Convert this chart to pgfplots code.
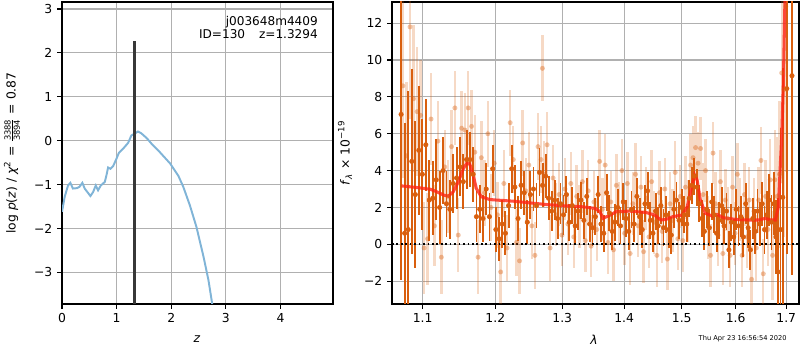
\documentclass[border=0pt]{standalone}
\usepackage{pgfplots}
\usepackage{pgfplotstable}
\pgfplotsset{compat=1.18}
\usepackage{fontspec}
\setmainfont{DejaVu Sans}
\definecolor{dorange}{RGB}{217,95,14}
\definecolor{pzblue}{RGB}{128,180,215}
\definecolor{modred}{RGB}{255,35,20}
\definecolor{gridgray}{RGB}{176,176,176}

\pgfplotstableread{
x y e
1.0720 7.05 9.0
1.0766 0.60 6.0
1.0812 0.80 7.5
1.0858 4.50 5.0
1.0904 2.70 4.0
1.0950 5.10 3.5
1.0996 3.80 3.0
1.1042 5.40 2.5
1.1088 2.40 2.2
1.1134 2.50 2.0
1.1180 3.50 2.2
1.1226 2.00 2.0
1.1272 4.00 1.8
1.1318 2.20 1.8
1.1364 1.90 1.6
1.1410 3.30 1.6
1.1456 3.60 1.7
1.1502 4.20 1.6
1.1548 3.40 1.5
1.1594 4.60 1.6
1.1640 4.60 1.5
1.1686 3.80 1.5
1.1732 1.50 1.4
1.1778 1.90 1.3
1.1824 1.40 1.3
1.1870 3.00 1.4
1.1916 1.50 1.3
1.1962 4.10 1.3
1.2008 0.80 1.2
1.2054 0.30 1.2
1.2100 1.10 1.3
1.2146 0.60 1.2
1.2192 2.10 1.2
1.2238 4.10 1.3
1.2284 3.10 1.2
1.2330 1.40 1.2
1.2376 3.20 1.3
1.2422 2.80 1.2
1.2468 1.20 1.2
1.2514 2.70 1.3
1.2560 3.00 1.2
1.2606 2.10 1.2
1.2652 3.90 1.3
1.2698 3.20 1.2
1.2744 3.70 1.2
1.2790 2.50 1.2
1.2836 1.80 1.1
1.2882 2.40 1.1
1.2928 1.40 1.1
1.2974 2.20 1.1
1.3020 1.60 1.1
1.3066 2.70 1.0
1.3112 1.20 1.0
1.3158 2.10 1.0
1.3204 1.00 1.0
1.3250 1.80 1.0
1.3296 2.40 1.0
1.3342 1.30 1.0
1.3388 2.60 1.0
1.3434 1.10 1.0
1.3480 0.90 1.0
1.3526 1.50 1.0
1.3572 2.70 1.0
1.3618 1.10 1.0
1.3664 0.60 1.0
1.3710 2.80 1.0
1.3756 1.70 1.0
1.3802 0.70 1.0
1.3848 1.20 1.0
1.3894 2.00 1.0
1.3940 1.00 1.0
1.3986 2.30 1.0
1.4032 1.40 1.0
1.4078 0.70 1.0
1.4124 1.90 1.0
1.4170 1.10 1.0
1.4216 2.60 1.0
1.4262 1.50 1.0
1.4308 0.80 1.0
1.4354 2.20 1.0
1.4400 2.90 1.0
1.4446 1.30 1.0
1.4492 0.60 1.0
1.4538 1.80 1.0
1.4584 1.00 1.0
1.4630 2.10 1.0
1.4676 0.90 1.0
1.4722 1.60 1.0
1.4768 0.80 1.0
1.4814 0.50 1.0
1.4860 1.90 1.0
1.4906 2.40 1.0
1.4952 1.30 1.0
1.4998 2.00 1.0
1.5044 1.60 1.0
1.5090 1.10 1.0
1.5136 2.50 1.0
1.5182 3.20 1.0
1.5228 3.70 1.0
1.5274 3.10 1.0
1.5320 2.20 1.0
1.5366 1.40 1.0
1.5412 0.70 1.0
1.5458 1.90 1.0
1.5504 0.90 1.0
1.5550 2.30 1.0
1.5596 1.60 1.0
1.5642 0.60 1.0
1.5688 1.30 1.0
1.5734 2.10 1.0
1.5780 1.00 1.0
1.5826 1.80 1.0
1.5872 -0.30 1.0
1.5918 1.20 1.0
1.5964 0.40 1.0
1.6010 1.90 1.1
1.6056 1.00 1.1
1.6102 1.50 1.1
1.6148 0.40 1.1
1.6194 2.20 1.1
1.6240 0.90 1.1
1.6286 -0.30 1.1
1.6332 1.40 1.1
1.6378 0.70 1.2
1.6424 1.80 1.2
1.6470 1.10 1.2
1.6516 2.20 1.2
1.6562 0.80 1.3
1.6608 1.60 1.3
1.6654 2.40 1.4
1.6700 1.20 1.5
1.6746 2.20 1.7
1.6792 0.40 2.0
1.6838 -1.50 4.0
1.6884 0.80 5.5
1.6930 2.55 7.0
1.7010 8.45 9.0
1.7116 9.15 10.8
}\darkdata

\pgfplotstableread{
x y e
1.0743 8.60 5.0
1.0789 4.80 4.0
1.0835 11.80 5.0
1.0881 7.90 4.0
1.0927 7.20 3.5
1.0973 7.00 3.0
1.1019 -0.20 2.5
1.1065 0.30 2.5
1.1111 6.80 2.5
1.1157 1.00 2.2
1.1203 5.60 2.2
1.1249 -0.70 2.0
1.1295 4.20 2.0
1.1341 2.60 2.0
1.1387 5.30 2.0
1.1433 7.40 2.0
1.1479 0.50 2.0
1.1525 6.30 2.0
1.1571 6.20 2.0
1.1617 7.40 2.0
1.1663 6.40 2.0
1.1709 5.00 2.0
1.1755 -0.70 2.0
1.1801 4.70 2.0
1.1847 2.80 1.8
1.1893 6.00 1.8
1.1939 2.00 1.8
1.1985 4.40 1.8
1.2031 1.60 1.8
1.2077 -1.50 1.8
1.2123 3.30 1.8
1.2169 -0.20 1.8
1.2215 6.60 1.8
1.2261 4.60 1.8
1.2307 0.10 1.8
1.2353 -0.90 1.8
1.2399 5.50 1.8
1.2445 2.90 1.8
1.2491 4.30 1.8
1.2537 1.00 1.8
1.2583 -0.60 1.8
1.2629 5.30 1.8
1.2675 4.60 1.8
1.2696 9.55 1.8
1.2721 3.80 1.8
1.2767 5.40 1.8
1.2813 -0.20 1.8
1.2859 3.60 1.8
1.2905 1.60 1.7
1.2951 2.70 1.7
1.2997 0.50 1.7
1.3043 3.00 1.7
1.3089 1.10 1.7
1.3135 3.30 1.7
1.3181 0.40 1.7
1.3227 2.60 1.7
1.3273 1.50 1.7
1.3319 3.40 1.7
1.3365 0.20 1.7
1.3411 2.90 1.7
1.3457 -0.10 1.7
1.3503 2.30 1.7
1.3549 0.80 1.7
1.3595 4.50 1.7
1.3641 1.90 1.7
1.3687 4.30 1.7
1.3733 0.10 1.7
1.3779 2.30 1.7
1.3825 -0.30 1.7
1.3871 3.20 1.7
1.3917 1.70 1.7
1.3963 4.00 1.7
1.4009 0.60 1.7
1.4055 3.30 1.7
1.4101 -0.50 1.7
1.4147 2.20 1.7
1.4193 3.80 1.7
1.4239 1.00 1.7
1.4285 3.10 1.7
1.4331 -0.40 1.7
1.4377 2.50 1.7
1.4423 0.40 1.7
1.4469 3.40 1.7
1.4515 1.20 1.7
1.4561 -0.60 1.7
1.4607 2.80 1.7
1.4653 0.70 1.7
1.4699 3.00 1.7
1.4745 -0.80 1.7
1.4791 2.20 1.7
1.4837 1.30 1.7
1.4883 3.90 1.7
1.4929 0.30 1.7
1.4975 2.60 1.7
1.5021 0.20 1.7
1.5067 3.10 1.7
1.5113 1.80 1.7
1.5159 4.30 1.7
1.5205 4.70 1.7
1.5251 5.25 1.7
1.5297 4.40 1.7
1.5343 5.20 1.7
1.5389 2.70 1.7
1.5435 4.00 1.7
1.5481 0.90 1.7
1.5527 -0.60 1.7
1.5573 4.95 1.7
1.5619 2.20 1.7
1.5665 0.50 1.7
1.5711 3.40 1.7
1.5757 -0.50 1.7
1.5803 2.40 1.7
1.5849 1.40 1.7
1.5895 -0.60 1.7
1.5941 3.10 1.7
1.5987 0.60 1.7
1.6033 3.80 1.7
1.6079 1.90 1.7
1.6125 -0.60 1.7
1.6171 2.70 1.7
1.6217 0.40 1.7
1.6263 2.40 1.8
1.6309 -1.90 1.8
1.6355 1.80 1.8
1.6401 -0.20 1.8
1.6447 2.40 1.8
1.6493 4.55 1.8
1.6539 -1.60 1.9
1.6585 2.60 2.0
1.6631 0.80 2.0
1.6677 3.50 2.2
1.6723 -0.60 2.4
1.6769 3.50 2.7
1.6815 2.60 3.2
1.6861 3.80 4.0
1.6907 9.30 6.0
1.6953 8.40 8.0
1.6990 12.90 9.0
}\lightdata

\pgfplotsset{
  mpl/.style={
    scale only axis,
    anchor=south west,
    height=217.44pt,
    tick align=outside,
    major tick length=3.5pt,
    every tick/.style={black, line width=0.8pt},
    axis line style={line width=0.8pt},
    grid=major,
    grid style={color=gridgray, line width=0.8pt},
    tick label style={font=\fontsize{8.9}{10}\selectfont},
    xtick pos=bottom, ytick pos=left,
    minor xtick={}, minor ytick={},
  }
}

\begin{document}
\begin{tikzpicture}
\useasboundingbox (0pt,0pt) rectangle (576pt,252pt);

% left: p(z)
\begin{axis}[mpl,
  at={(44.64pt,33.12pt)}, width=195.1pt,
  xmin=0, xmax=4.96, ymin=-3.72, ymax=3.16,
  xtick={0,1,2,3,4}, xticklabels={0,1,2,3,4},
  ytick={-3,-2,-1,0,1,2,3},
  yticklabels={−3,−2,−1,0,1,2,3},
]
\addplot[color=pzblue, line width=1.4pt] coordinates {
(0.000,-1.62) (0.049,-1.28) (0.110,-1.02) (0.153,-0.96) (0.200,-1.09)
(0.275,-1.08) (0.320,-1.05) (0.373,-0.96) (0.416,-1.09) (0.477,-1.19)
(0.520,-1.26) (0.569,-1.17) (0.618,-1.02) (0.660,-1.13) (0.710,-1.02)
(0.783,-0.94) (0.813,-0.79) (0.844,-0.61) (0.887,-0.64) (0.936,-0.58)
(0.997,-0.41) (1.040,-0.28) (1.120,-0.18) (1.210,-0.05) (1.270,0.12)
(1.330,0.16) (1.390,0.21) (1.450,0.17) (1.550,0.06) (1.640,-0.07)
(1.790,-0.26) (1.980,-0.52) (2.130,-0.80) (2.220,-1.05) (2.340,-1.47)
(2.460,-1.96) (2.590,-2.64) (2.680,-3.17) (2.750,-3.72)
};
\addplot[color=black!78, line width=2pt] coordinates {(1.3294,-3.72) (1.3294,2.28)};
\node[anchor=north east, align=right, inner sep=0pt, font=\fontsize{8.7}{10}\selectfont]
  at (rel axis cs:0.945,0.955) {j003648m4409\\ID=130\hspace{10pt}z=1.3294};
\end{axis}

% right: spectrum
\begin{axis}[mpl,
  at={(282.24pt,33.12pt)}, width=293pt,
  xmode=log, log basis x=10,
  xmin=1.0604, xmax=1.726, ymin=-3.24, ymax=13.15,
  xtick={1.1,1.2,1.3,1.4,1.5,1.6,1.7},
  xticklabels={1.1,1.2,1.3,1.4,1.5,1.6,1.7},
  ytick={-2,0,2,4,6,8,10,12},
  yticklabels={−2,0,2,4,6,8,10,12},
]
\addplot[color=dorange, only marks, mark=*, mark size=1.8pt,
  mark options={color=dorange, fill=dorange, draw opacity=0, fill opacity=0.38},
  error bars/.cd, y dir=both, y explicit, error mark=none,
  error bar style={line width=1.7pt, color=dorange, opacity=0.24}]
  table[x=x, y=y, y error=e]{\lightdata};
\addplot[color=dorange, only marks, mark=*, mark size=1.6pt,
  mark options={color=dorange, fill=dorange},
  error bars/.cd, y dir=both, y explicit, error mark=none,
  error bar style={line width=1.35pt, color=dorange}]
  table[x=x, y=y, y error=e]{\darkdata};
\addplot[color=black, dotted, line width=1.2pt] coordinates {(1.0604,0) (1.726,0)};
\addplot[color=modred, line width=2.2pt, opacity=0.8] coordinates {
(1.0725,3.17) (1.0926,3.08) (1.1100,2.99) (1.1189,2.85) (1.1280,2.67)
(1.1344,2.61) (1.1410,2.85) (1.1480,3.39) (1.1550,4.11) (1.1603,4.43)
(1.1640,4.34) (1.1686,3.75) (1.1730,3.03) (1.1800,2.58) (1.1920,2.43)
(1.2020,2.40) (1.2260,2.34) (1.2500,2.25) (1.2750,2.16) (1.3030,2.09)
(1.3310,2.04) (1.3520,1.95) (1.3600,1.77) (1.3650,1.41) (1.3770,1.59)
(1.3870,1.77) (1.4090,1.80) (1.4370,1.73) (1.4520,1.59) (1.4630,1.32)
(1.4720,1.35) (1.4840,1.50) (1.5010,1.59) (1.5100,2.04) (1.5180,3.12)
(1.5235,3.75) (1.5280,3.48) (1.5340,2.40) (1.5430,1.68) (1.5560,1.53)
(1.5650,1.62) (1.5770,1.44) (1.6000,1.35) (1.6250,1.32) (1.6450,1.32)
(1.6580,1.41) (1.6680,1.32) (1.6780,1.32) (1.6840,2.04) (1.6910,6.00)
(1.6940,8.70) (1.6975,13.5)
};
\end{axis}

% labels
\node[rotate=90, font=\fontsize{8.9}{10}\selectfont] at (8.6pt,141.8pt)
  {log \textit{p}(\textit{z}) / \textit{χ}\textsuperscript{2} = $\frac{\mbox{\fontsize{6}{6}\selectfont 3388}}{\mbox{\fontsize{6}{6}\selectfont 3894}}$ = 0.87};
\node[rotate=90, font=\fontsize{8.9}{10}\selectfont] at (248.4pt,141.8pt)
  {\textit{f}\textsubscript{\textit{λ}} × 10\textsuperscript{−19}};
\node[font=\fontsize{8.9}{10}\selectfont\itshape] at (141.8pt,7.9pt) {z};
\node[font=\fontsize{8.9}{10}\selectfont\itshape] at (427.7pt,7.6pt) {λ};
\node[anchor=east, font=\fontsize{4.8}{5}\selectfont, inner sep=0pt] at (566.6pt,8.4pt) {Thu Apr 23 16:56:54 2020};
\end{tikzpicture}
\end{document}
